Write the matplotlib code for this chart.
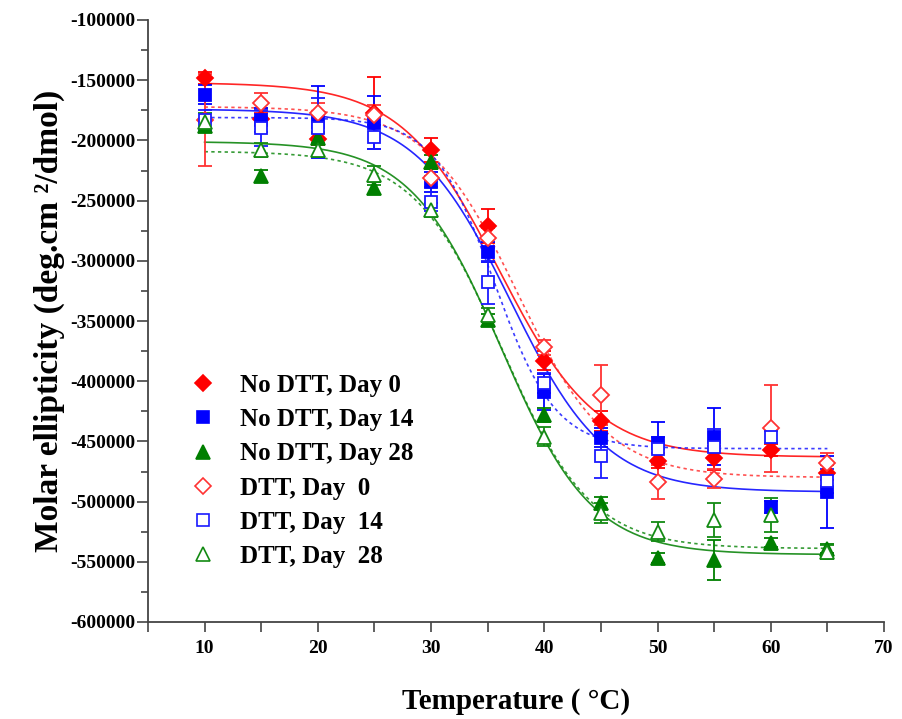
import numpy as np
import matplotlib
matplotlib.use('Agg')
import matplotlib.pyplot as plt
from matplotlib.lines import Line2D
from matplotlib.ticker import MultipleLocator

plt.rcParams['font.family'] = ['Liberation Serif', 'DejaVu Serif']
plt.rcParams['font.weight'] = 'bold'

temps = [10, 15, 20, 25, 30, 35, 40, 45, 50, 55, 60, 65]

labels = ['No DTT, Day 0', 'No DTT, Day 14', 'No DTT, Day 28',
          'DTT, Day  0', 'DTT, Day  14', 'DTT, Day  28']

nodtt_d0 = [-148000, -182000, -199000, -177000, -208000, -271000,
            -383000, -433000, -466000, -464000, -457000, -476000]
nodtt_d0_err = [5000, 5000, 5000, 30000, 10000, 14000,
                8000, 8000, 6000, 10000, 5000, 6000]

nodtt_d14 = [-162000, -183000, -185000, -185500, -234500, -292700,
             -409000, -447000, -451000, -446000, -504500, -492000]
nodtt_d14_err = [8000, 10000, 30000, 22000, 8000, 8000,
                 15000, 8000, 17000, 24000, 5000, 30000]

nodtt_d28 = [-188000, -229500, -198000, -239500, -218000, -349000,
             -428000, -501000, -547000, -548500, -534000, -539000]
nodtt_d28_err = [5000, 5000, 5000, 5000, 6000, 5000,
                 6000, 5000, 4000, 17000, 4000, 4000]

dtt_d0 = [-183000, -169000, -177000, -179000, -231000, -281000,
          -372000, -411500, -484000, -481000, -439000, -468000]
dtt_d0_err = [38000, 8000, 8000, 8000, 8000, 8000,
              6000, 25000, 14000, 8000, 36000, 8000]

dtt_d14 = [-183000, -190000, -190000, -197000, -251000, -318000,
           -401500, -462000, -456000, -455000, -446000, -483000]
dtt_d14_err = [8000, 15000, 25000, 10000, 8000, 18000,
               8000, 18000, 10000, 15000, 5000, 10000]

dtt_d28 = [-185000, -208000, -208000, -229000, -258000, -345000,
           -446000, -509500, -525000, -515000, -511000, -542000]
dtt_d28_err = [8000, 6000, 6000, 8000, 6000, 6000,
               8000, 8000, 8000, 14000, 14000, 6000]

# sigmoid fit parameters: top, bottom, Tm, slope
fit_nodtt_d0 = (-152000, -463000, 36.0, 4.3)
fit_nodtt_d14 = (-174000, -492000, 37.0, 4.2)
fit_nodtt_d28 = (-201000, -544000, 36.2, 4.0)
fit_dtt_d0 = (-172000, -480000, 37.6, 4.0)
fit_dtt_d14 = (-181000, -456000, 35.6, 2.7)
fit_dtt_d28 = (-209000, -539000, 36.3, 3.9)


def boltzmann(t, top, bottom, tm, slope):
    return bottom + (top - bottom) / (1 + np.exp((t - tm) / slope))


series = [
    (nodtt_d0, nodtt_d0_err, fit_nodtt_d0, '#ff0000', 'D', True),
    (nodtt_d14, nodtt_d14_err, fit_nodtt_d14, '#0000ff', 's', True),
    (nodtt_d28, nodtt_d28_err, fit_nodtt_d28, '#007f00', '^', True),
    (dtt_d0, dtt_d0_err, fit_dtt_d0, '#ff3333', 'D', False),
    (dtt_d14, dtt_d14_err, fit_dtt_d14, '#1a1aff', 's', False),
    (dtt_d28, dtt_d28_err, fit_dtt_d28, '#138a13', '^', False),
]
marker_size = {'D': 8.5, 's': 8.5, '^': 10}

fig = plt.figure(figsize=(9.03, 7.19), dpi=100)
ax = fig.add_axes([148 / 903, 1 - 622 / 719, 736 / 903, 602 / 719])

t_fit = np.linspace(10, 65, 300)
handles = []
for vals, errs, fit, col, mk, filled in series:
    ls = '-' if filled else (0, (2, 2))
    ax.plot(t_fit, boltzmann(t_fit, *fit), color=col, lw=1.2, ls=ls, alpha=0.85, zorder=2)
    ms = marker_size[mk]
    ax.errorbar(temps, vals, yerr=errs, fmt=mk, color=col, ms=ms,
                mfc=col if filled else 'white', mec=col, mew=1.3,
                elinewidth=1.3, capsize=5, capthick=1.3, zorder=3)
    handles.append(Line2D([], [], ls='none', marker=mk, color=col, ms=ms,
                          mfc=col if filled else 'white', mec=col, mew=1.2))

ax.set_xlim(5, 70)
ax.set_ylim(-600000, -100000)

ax.xaxis.set_minor_locator(MultipleLocator(5))
ax.yaxis.set_major_locator(MultipleLocator(50000))
ax.yaxis.set_minor_locator(MultipleLocator(25000))
ax.set_xticks([10, 20, 30, 40, 50, 60, 70])
ax.yaxis.set_major_formatter(plt.FuncFormatter(lambda v, p: '%d' % v))

for s in ['top', 'right']:
    ax.spines[s].set_visible(False)
for s in ['left', 'bottom']:
    ax.spines[s].set_color('#444444')
    ax.spines[s].set_linewidth(1.3)

ax.tick_params(axis='y', which='major', length=8, width=1.2, color='#444444',
               labelsize=14, pad=1)
ax.tick_params(axis='y', which='minor', length=5, width=1.2, color='#444444')
ax.tick_params(axis='x', which='both', length=7, width=1.2, color='#444444',
               labelsize=14, pad=6)

ax.set_xlabel('Temperature ( °C)', fontsize=21, fontweight='bold', labelpad=22)
ax.set_ylabel('Molar ellipticity (deg.cm ²/dmol)', fontsize=24,
              fontweight='bold', labelpad=4)

ax.legend(handles, labels, loc='upper left', bbox_to_anchor=(0.0577, 0.412),
          frameon=False, fontsize=18, borderpad=0, borderaxespad=0,
          handlelength=1.0, handletextpad=0.98, labelspacing=0.45)

fig.savefig('out.png', dpi=100)
